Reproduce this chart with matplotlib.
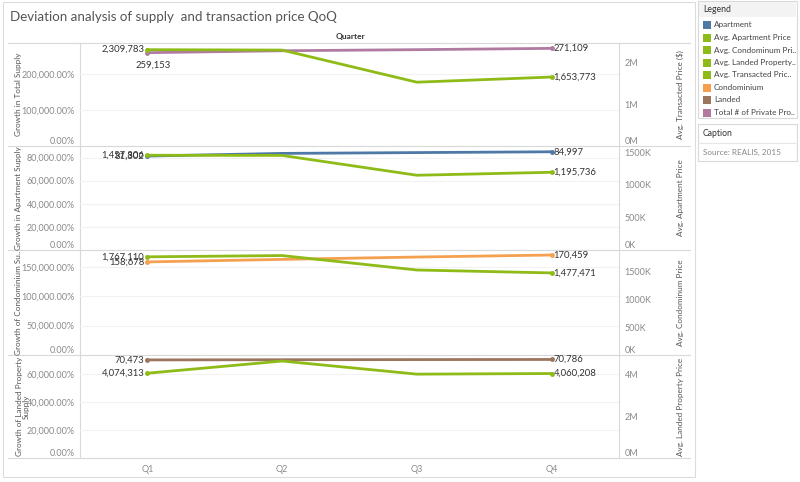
import matplotlib.pyplot as plt
from matplotlib.patches import Rectangle
from matplotlib.ticker import FuncFormatter

plt.rcParams['font.family'] = ['Lato', 'DejaVu Sans']

quarters = ['Q1', 'Q2', 'Q3', 'Q4']

# supply (left axis) per panel
total_supply = [259153, 264500, 267500, 271109]
apartment_supply = [81302, 83600, 84300, 84997]
condo_supply = [158678, 163000, 167000, 170459]
landed_supply = [70473, 70600, 70700, 70786]

# avg prices (right axis) per panel
transacted_price = [2309783, 2300000, 1530000, 1653773]
apartment_price = [1457806, 1455000, 1150000, 1195736]
condo_price = [1767110, 1790000, 1530000, 1477471]
landed_price = [4074313, 4660000, 4030000, 4060208]

left_titles = ['Growth in Total Supply', 'Growth in Apartment Supply',
               'Growth of Condominium Su..', 'Growth of Landed Property\nSupply']
right_titles = ['Avg. Transacted Price ($)', 'Avg. Apartment Price',
                'Avg. Condominum Price', 'Avg. Landed Property Price']

legend_names = ['Apartment', 'Avg. Apartment Price', 'Avg. Condominum Pri..',
                'Avg. Landed Property..', 'Avg. Transacted Pric..', 'Condominium',
                'Landed', 'Total # of Private Pro..']

GREEN = '#8fbb18'
BLUE = '#4e79a7'
ORANGE = '#f5a04f'
BROWN = '#9c755f'
PINK = '#b07aa1'
legend_colors = [BLUE, GREEN, GREEN, GREEN, GREEN, ORANGE, BROWN, PINK]

W, H = 800, 482
fig = plt.figure(figsize=(8, 4.82), dpi=100)

# overlay in pixel coords for frames, headers and side labels
ov = fig.add_axes([0, 0, 1, 1])
ov.set_xlim(0, W)
ov.set_ylim(H, 0)
ov.axis('off')

ov.add_patch(Rectangle((3, 2), 692, 475, fill=False, ec='#dcdcdc', lw=0.8))
ov.text(10, 17, 'Deviation analysis of supply  and transaction price QoQ',
        fontsize=9.6, color='#555555', va='center')
ov.text(350, 37, 'Quarter', fontsize=6, color='#333333', ha='center',
        va='center', fontweight='bold')

panel_edges = [43, 146, 250, 355, 458]
LEFT, RIGHT = 80, 619

for y in panel_edges:
    ov.plot([8, 690], [y, y], color='#d9d9d9', lw=0.8)
ov.plot([LEFT, LEFT], [43, 458], color='#d9d9d9', lw=0.8)
ov.plot([RIGHT, RIGHT], [43, 458], color='#d9d9d9', lw=0.8)

panels = [
    (total_supply, PINK, transacted_price, (0, 286000), (0, 2.47e6),
     [0, 100000, 200000], [0, 1e6, 2e6], 'M'),
    (apartment_supply, BLUE, apartment_price, (0, 90000), (0, 1.6e6),
     [0, 20000, 40000, 60000, 80000], [0, 5e5, 1e6, 1.5e6], 'K'),
    (condo_supply, ORANGE, condo_price, (0, 179000), (0, 1.89e6),
     [0, 50000, 100000, 150000], [0, 5e5, 1e6, 1.5e6], 'K'),
    (landed_supply, BROWN, landed_price, (0, 74000), (0, 4.95e6),
     [0, 20000, 40000, 60000], [0, 2e6, 4e6], 'M'),
]

def pct(v, pos):
    return f'{v:,.2f}%'

def mfmt(v, pos):
    return f'{v / 1e6:.0f}M'

def kfmt(v, pos):
    return f'{v / 1e3:.0f}K'

x = list(range(len(quarters)))

for i, (sup, col, price, ylim_l, ylim_r, lt, rt, unit) in enumerate(panels):
    top, bot = panel_edges[i], panel_edges[i + 1]
    ax = fig.add_axes([LEFT / W, 1 - bot / H, (RIGHT - LEFT) / W, (bot - top) / H])
    ax.set_facecolor('none')
    ax.set_xlim(-0.5, 3.5)
    ax.set_ylim(*ylim_l)
    ax.set_yticks(lt)
    ax.yaxis.set_major_formatter(FuncFormatter(pct))
    ax.tick_params(axis='y', length=0, labelsize=6.5, labelcolor='#8a8a8a', pad=4)
    ax.grid(axis='y', color='#f2f2f2', lw=0.8)
    ax.set_axisbelow(True)
    for s in ax.spines.values():
        s.set_visible(False)
    ax.set_xticks(x)
    if i == 3:
        ax.set_xticklabels(quarters)
        ax.tick_params(axis='x', length=0, labelsize=6.5, labelcolor='#8a8a8a', pad=5)
    else:
        ax.set_xticklabels([])
        ax.tick_params(axis='x', length=0)

    ax2 = ax.twinx()
    ax2.set_ylim(*ylim_r)
    ax2.set_yticks(rt)
    ax2.yaxis.set_major_formatter(FuncFormatter(mfmt if unit == 'M' else kfmt))
    ax2.tick_params(axis='y', length=0, labelsize=6.5, labelcolor='#8a8a8a', pad=4)
    for s in ax2.spines.values():
        s.set_visible(False)

    for a in (ax, ax2):
        lbls = a.get_yticklabels()
        lbls[0].set_va('bottom')

    ax.plot(x, sup, color=col, lw=2, zorder=3)
    ax.plot([x[0], x[-1]], [sup[0], sup[-1]], 'o', color=col, ms=2.5, zorder=4)
    ax2.plot(x, price, color=GREEN, lw=2, zorder=3)
    ax2.plot([x[0], x[-1]], [price[0], price[-1]], 'o', color=GREEN, ms=2.5, zorder=4)

    lab_kw = dict(textcoords='offset pixels', fontsize=6.8, color='#333333', va='center')
    if i == 0:
        ax.annotate(f'{sup[0]:,}', (x[0], sup[0]), xytext=(6, -13), ha='center', **lab_kw)
    else:
        ax.annotate(f'{sup[0]:,}', (x[0], sup[0]), xytext=(-3, 0), ha='right', **lab_kw)
    ax2.annotate(f'{price[0]:,}', (x[0], price[0]), xytext=(-3, 0), ha='right', **lab_kw)
    ax.annotate(f'{sup[-1]:,}', (x[-1], sup[-1]), xytext=(2, 0), ha='left', **lab_kw)
    ax2.annotate(f'{price[-1]:,}', (x[-1], price[-1]), xytext=(2, 0), ha='left', **lab_kw)

    mid = (top + bot) / 2
    ov.text(19 if i < 3 else 23, mid, left_titles[i], rotation=90, ha='center',
            va='center', fontsize=5.9, color='#555555', multialignment='center',
            linespacing=1.0)
    ov.text(680, mid, right_titles[i], rotation=90, ha='center', va='center',
            fontsize=5.9, color='#555555')

# legend box
ov.add_patch(Rectangle((698, 1), 99, 117, fill=False, ec='#d9d9d9', lw=0.8))
ov.add_patch(Rectangle((699, 2), 97, 15, color='#f3f3f3', lw=0))
ov.text(703, 10, 'Legend', fontsize=6.2, color='#333333', va='center')
for k, (name, c) in enumerate(zip(legend_names, legend_colors)):
    yy = 25 + k * 12.5
    ov.add_patch(Rectangle((703, yy - 4), 8, 8, color=c, lw=0))
    ov.text(714, yy, name, fontsize=5.9, color='#444444', va='center')

# caption box
ov.add_patch(Rectangle((698, 124), 99, 37, fill=False, ec='#d9d9d9', lw=0.8))
ov.plot([698, 797], [143, 143], color='#e6e6e6', lw=0.8)
ov.text(703, 133, 'Caption', fontsize=6.2, color='#333333', va='center')
ov.text(703, 152, 'Source: REALIS, 2015', fontsize=5.9, color='#888888', va='center')

fig.savefig('out.png', dpi=100)
